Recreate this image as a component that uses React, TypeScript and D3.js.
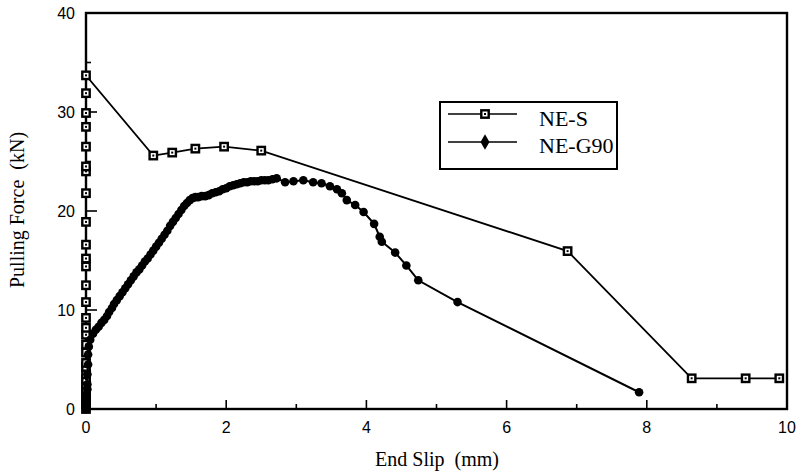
import React from "react";
import * as d3 from "d3";

const xTicks = [0, 2, 4, 6, 8, 10];
const yTicks = [0, 10, 20, 30, 40];
const xMinor = [1, 3, 5, 7, 9];
const yMinor = [5, 15, 25, 35];

const neSX = [0, 0, 0, 0, 0, 0, 0, 0, 0, 0, 0, 0, 0, 0, 0, 0, 0, 0, 0, 0, 0, 0, 0, 0, 0, 0, 0, 0, 0, 0.96, 1.23, 1.56, 1.97, 2.5, 6.87, 8.64, 9.41, 9.89];
const neSY = [0, 0.5, 1, 1.5, 2, 2.5, 3, 3.5, 4.25, 4.65, 5.7, 6.5, 7.5, 8.2, 9.2, 10.8, 12.5, 14.4, 15.2, 16.6, 18.9, 21.8, 24.0, 24.5, 26.5, 28.5, 29.9, 31.9, 33.7, 25.6, 25.9, 26.3, 26.5, 26.1, 15.95, 3.1, 3.1, 3.1];

const neGX = [0, 0, 0.01, 0.01, 0.02, 0.02, 0.02, 0.03, 0.03, 0.04, 0.06, 0.1, 0.14, 0.18, 0.22, 0.26, 0.3, 0.33, 0.37, 0.4, 0.44, 0.48, 0.52, 0.56, 0.6, 0.64, 0.68, 0.72, 0.76, 0.8, 0.84, 0.88, 0.92, 0.96, 1.0, 1.04, 1.08, 1.12, 1.16, 1.2, 1.24, 1.28, 1.32, 1.36, 1.4, 1.44, 1.48, 1.52, 1.56, 1.6, 1.65, 1.7, 1.75, 1.8, 1.85, 1.9, 1.95, 2.0, 2.05, 2.1, 2.15, 2.2, 2.25, 2.3, 2.35, 2.4, 2.45, 2.5, 2.55, 2.6, 2.66, 2.72, 2.84, 2.96, 3.1, 3.24, 3.36, 3.48, 3.58, 3.65, 3.72, 3.84, 3.96, 4.11, 4.19, 4.22, 4.41, 4.57, 4.74, 5.3, 7.89];
const neGY = [0, 0.5, 1.0, 1.5, 2.0, 2.5, 3.5, 4.5, 5.5, 6.3, 7.0, 7.6, 8.0, 8.3, 8.7, 9.0, 9.4, 9.8, 10.2, 10.6, 11.0, 11.4, 11.8, 12.2, 12.6, 13.0, 13.4, 13.8, 14.1, 14.5, 14.9, 15.2, 15.6, 16.0, 16.4, 16.8, 17.2, 17.6, 18.0, 18.5, 18.9, 19.3, 19.7, 20.1, 20.5, 20.8, 21.1, 21.3, 21.4, 21.4, 21.5, 21.5, 21.6, 21.8, 21.9, 22.0, 22.2, 22.3, 22.5, 22.6, 22.7, 22.8, 22.9, 22.9, 23.0, 23.0, 23.0, 23.1, 23.1, 23.1, 23.2, 23.3, 22.9, 23.0, 23.1, 22.9, 22.8, 22.5, 22.2, 21.8, 21.1, 20.6, 19.9, 18.7, 17.4, 16.9, 15.8, 14.5, 13.0, 10.8, 1.69];

const seriesNames = ["NE-S", "NE-G90"];

export default function App() {
  const W = 802, H = 472;
  const left = 86, right = 787, top = 13, bottom = 409;
  const x = d3.scaleLinear().domain([0, 10]).range([left, right]);
  const y = d3.scaleLinear().domain([0, 40]).range([bottom, top]);
  const line = d3.line<[number, number]>().x(d => x(d[0])).y(d => y(d[1]));
  const sPts: [number, number][] = neSX.map((v, i) => [v, neSY[i]]);
  const gPts: [number, number][] = neGX.map((v, i) => [v, neGY[i]]);
  const sans = "'Liberation Sans', Arial, sans-serif";
  const serif = "'Liberation Serif', 'Times New Roman', serif";
  const Square = ({ cx, cy }: { cx: number; cy: number }) => (
    <g>
      <rect x={cx - 3.7} y={cy - 3.7} width={7.4} height={7.4} fill="#fff" stroke="#000" strokeWidth={2.4} />
      <rect x={cx - 1} y={cy - 1} width={2} height={2} fill="#000" />
    </g>
  );
  const diamond = d3.symbol().type(d3.symbolDiamond).size(70)() as string;
  const lgX = 440, lgY = 102, lgW = 177, lgH = 67;
  return (
    <svg width={W} height={H} style={{ position: "absolute", left: 0, top: 0, background: "#fff" }}>
      <rect x={0} y={0} width={W} height={H} fill="#fff" />
      {/* frame */}
      <rect x={left} y={top} width={right - left} height={bottom - top} fill="none" stroke="#000" strokeWidth={2.4} />
      {/* ticks */}
      {xTicks.slice(1, -1).map(t => (
        <line key={"xt" + t} x1={x(t)} x2={x(t)} y1={bottom} y2={bottom - 9} stroke="#000" strokeWidth={1.6} />
      ))}
      {xMinor.map(t => (
        <line key={"xm" + t} x1={x(t)} x2={x(t)} y1={bottom} y2={bottom - 5} stroke="#000" strokeWidth={1.6} />
      ))}
      {yTicks.slice(1, -1).map(t => (
        <line key={"yt" + t} x1={left} x2={left + 11} y1={y(t)} y2={y(t)} stroke="#000" strokeWidth={1.6} />
      ))}
      {yMinor.map(t => (
        <line key={"ym" + t} x1={left} x2={left + 5} y1={y(t)} y2={y(t)} stroke="#000" strokeWidth={1.6} />
      ))}
      {xTicks.map(t => (
        <text key={"xl" + t} x={x(t)} y={433} textAnchor="middle" fontFamily={sans} fontSize={16}>{t}</text>
      ))}
      {yTicks.map(t => (
        <text key={"yl" + t} x={75} y={y(t) + 6} textAnchor="end" fontFamily={sans} fontSize={16}>{t}</text>
      ))}
      <text x={437} y={466} textAnchor="middle" fontFamily={serif} fontSize={20} style={{ whiteSpace: "pre" }}>{"End Slip  (mm)"}</text>
      <text transform="translate(24,210) rotate(-90)" textAnchor="middle" fontFamily={serif} fontSize={20} style={{ whiteSpace: "pre" }}>{"Pulling Force  (kN)"}</text>
      {/* NE-S */}
      <path d={line(sPts) || ""} fill="none" stroke="#000" strokeWidth={1.8} />
      {sPts.map((p, i) => (
        <Square key={"s" + i} cx={x(p[0])} cy={y(p[1])} />
      ))}
      {/* NE-G90 */}
      <path d={line(gPts) || ""} fill="none" stroke="#000" strokeWidth={2} />
      {gPts.map((p, i) => (
        <circle key={"g" + i} cx={x(p[0])} cy={y(p[1])} r={4.3} fill="#000" />
      ))}
      {/* legend */}
      <rect x={lgX} y={lgY} width={lgW} height={lgH} fill="#fff" stroke="#000" strokeWidth={2} />
      <line x1={448} x2={517} y1={114} y2={114} stroke="#000" strokeWidth={1.5} />
      <Square cx={485} cy={114} />
      <line x1={448} x2={517} y1={142} y2={142} stroke="#000" strokeWidth={1.5} />
      <path d={diamond} transform="translate(485,142)" fill="#000" />
      <text x={539} y={126} fontFamily={serif} fontSize={22}>{seriesNames[0]}</text>
      <text x={539} y={153} fontFamily={serif} fontSize={22}>{seriesNames[1]}</text>
    </svg>
  );
}
